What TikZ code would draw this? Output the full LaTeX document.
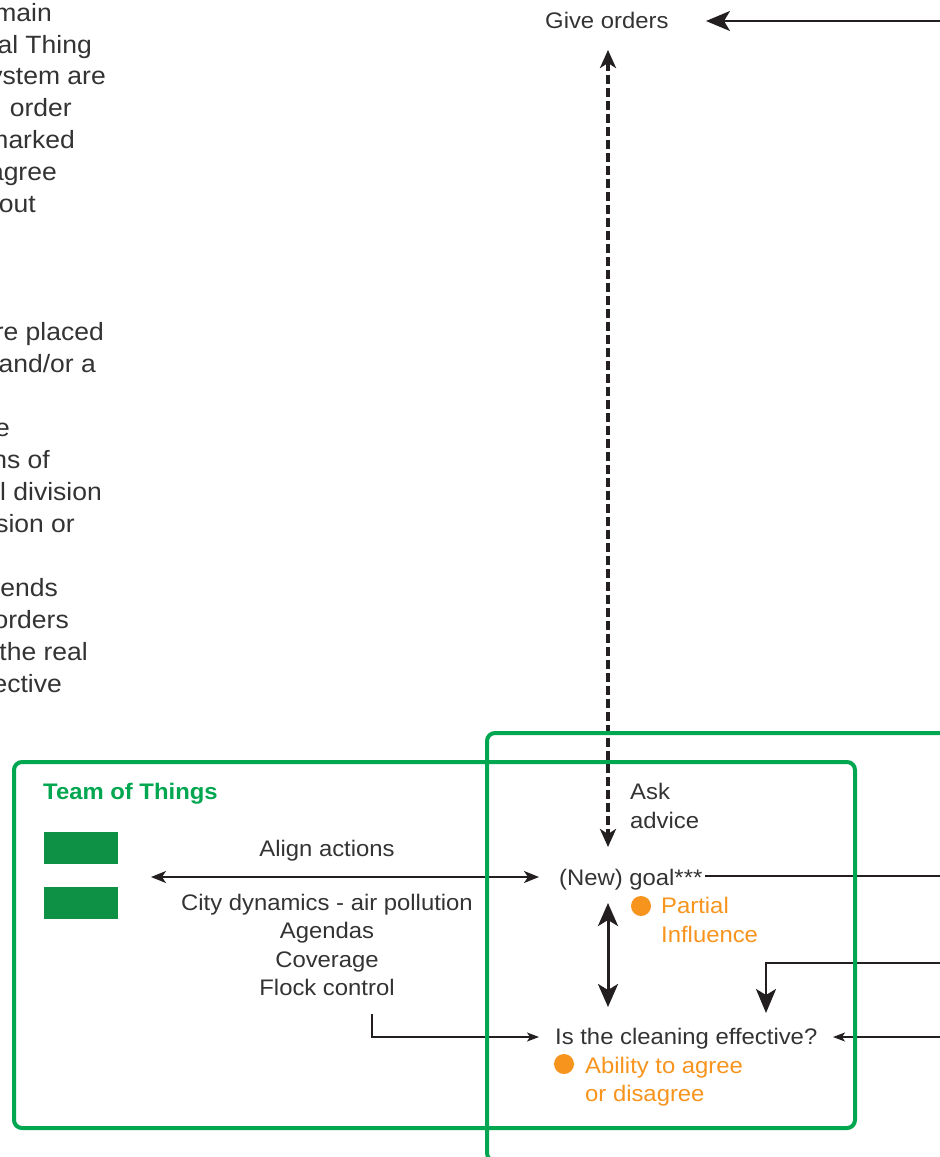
\documentclass[tikz,border=0pt]{standalone}
\usepackage{fontspec}
\setmainfont[FakeStretch=1.06]{Liberation Sans}
\usetikzlibrary{arrows.meta}

\definecolor{ink}{HTML}{333333}
\definecolor{wire}{HTML}{231F20}
\definecolor{teamgreen}{HTML}{00A650}
\definecolor{blockgreen}{HTML}{0E9145}
\definecolor{accent}{HTML}{F7941D}

\tikzset{
  caption/.style={inner sep=0pt, anchor=base west, text=ink, font=\fontsize{22.5}{27}\selectfont},
  captionc/.style={caption, anchor=base},
  margintext/.style={inner sep=0pt, anchor=base east, text=ink, font=\fontsize{25}{30}\selectfont},
  remark/.style={caption, text=accent},
  teamtitle/.style={caption, text=teamgreen, font=\fontsize{22.5}{27}\selectfont\bfseries},
  frame/.style={draw=teamgreen, line width=4pt, rounded corners=8pt},
  block/.style={fill=blockgreen},
  bullet/.style={fill=accent},
  wireline/.style={draw=wire, line width=2pt},
  bigtip/.style={-{Stealth[length=24pt,width=20pt,inset=6pt]}},
  bigboth/.style={{Stealth[length=23pt,width=20pt,inset=6pt]}-{Stealth[length=23pt,width=20pt,inset=6pt]}},
  dashboth/.style={{Stealth[length=18pt,width=16pt,inset=5pt]}-{Stealth[length=18pt,width=16pt,inset=5pt]},
    line width=4pt, dash pattern=on 9pt off 4pt},
  midboth/.style={{Stealth[length=15pt,width=12pt,inset=4pt]}-{Stealth[length=15pt,width=12pt,inset=4pt]}},
  smalltip/.style={-{Stealth[length=12pt,width=9pt,inset=3pt]}},
}

\begin{document}
\begin{tikzpicture}[x=1pt,y=-1pt]
\useasboundingbox (0,0) rectangle (940,1157);
\clip (0,0) rectangle (940,1157);

% running text along the left margin
\node[margintext] (m1)  at (52,21)    {main};
\node[margintext] (m2)  at (92,53)    {al Thing};
\node[margintext] (m3)  at (106,84.5) {ystem are};
\node[margintext] (m4)  at (72,116.5) {order};
\node[margintext] (m5)  at (75,148.5) {marked};
\node[margintext] (m6)  at (57,180.5) {agree};
\node[margintext] (m7)  at (36,212.5) {out};
\node[margintext] (m8)  at (104,340.5){re placed};
\node[margintext] (m9)  at (96,372.5) {and/or a};
\node[margintext] (m10) at (10,436.5) {e};
\node[margintext] (m11) at (50,468.5) {ns of};
\node[margintext] (m12) at (102,500.5){l division};
\node[margintext] (m13) at (75,532)   {sion or};
\node[margintext] (m14) at (58,596)   {ends};
\node[margintext] (m15) at (69,628)   {orders};
\node[margintext] (m16) at (88,660)   {the real};
\node[margintext] (m17) at (62,692)   {ective};

% labels
\node[caption] (give)      at (545,28)   {Give orders};
\node[caption] (ask)       at (630,799)  {Ask};
\node[caption] (advice)    at (630,828)  {advice};
\node[caption] (goal)      at (559,885)  {(New) goal***};
\node[remark] (partial)    at (661,913)  {Partial};
\node[remark] (influence)  at (661,942)  {Influence};
\node[caption] (effective) at (555,1044) {Is the cleaning effective?};
\node[remark] (ability)    at (585,1073) {Ability to agree};
\node[remark] (disagree)   at (585,1101) {or disagree};
\node[captionc] (align)    at (327,856)  {Align actions};
\node[captionc] (city)     at (327,910)  {City dynamics - air pollution};
\node[captionc] (agendas)  at (327,938)  {Agendas};
\node[captionc] (coverage) at (327,967)  {Coverage};
\node[captionc] (flock)    at (327,995)  {Flock control};
\node[teamtitle] (team)    at (43,799)   {Team of Things};

% members of the team
\path[block] (44,832) rectangle (118,864);
\path[block] (44,887) rectangle (118,919);

% bullets
\path[bullet] (641,906) circle (10);
\path[bullet] (564,1064) circle (10);

% connector end points
\coordinate (orders-src) at (945,21);
\coordinate (orders-in)  at (706,21);
\coordinate (orders-out) at (608,50);
\coordinate (goal-top)   at (608,847);
\coordinate (team-end)   at (151,877);
\coordinate (goal-in)    at (539,877);
\coordinate (goal-out)   at (705,876);
\coordinate (goal-far)   at (945,876);
\coordinate (goal-low)   at (608,903);
\coordinate (check-top)  at (608,1007);
\coordinate (side-src)   at (945,963);
\coordinate (side-bend)  at (766,963);
\coordinate (side-in)    at (766,1013);
\coordinate (flock-out)  at (372,1014);
\coordinate (flock-bend) at (372,1037);
\coordinate (check-in)   at (539,1037);
\coordinate (right-src)  at (945,1037);
\coordinate (check-rin)  at (833,1037);

% connectors
\draw[wireline, bigtip] (orders-src) -- (orders-in);
\draw[wireline, dashboth] (orders-out) -- (goal-top);
\draw[wireline, midboth] (team-end) -- (goal-in);
\draw[wireline] (goal-out) -- (goal-far);
\draw[wireline, line width=3pt, bigboth] (goal-low) -- (check-top);
\draw[wireline, line width=2.6pt, bigtip] (side-src) -- (side-bend) -- (side-in);
\draw[wireline, line width=1.6pt, smalltip] (flock-out) -- (flock-bend) -- (check-in);
\draw[wireline, line width=1.6pt, smalltip] (right-src) -- (check-rin);

% frames
\draw[frame] (14,762) rectangle (855,1128);
\draw[frame] (487,733) rectangle (1000,1161);
\end{tikzpicture}
\end{document}
